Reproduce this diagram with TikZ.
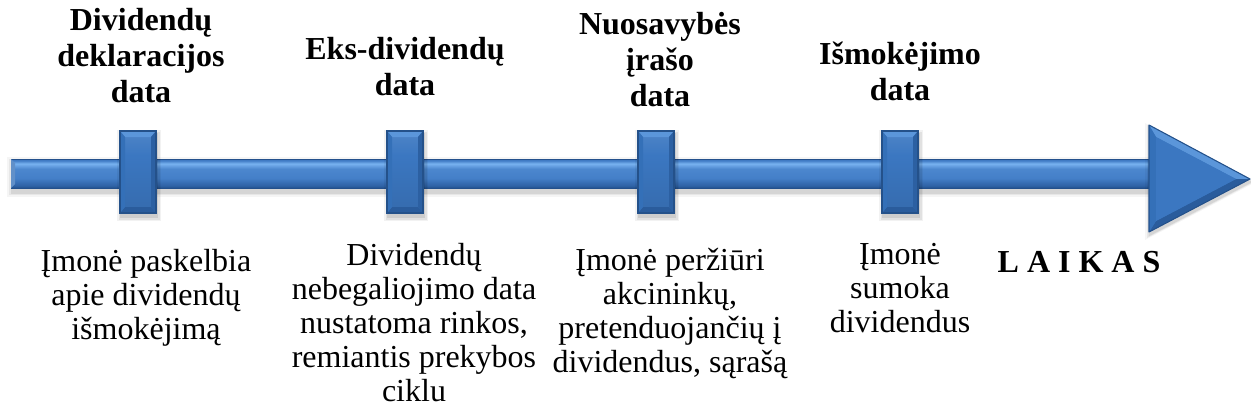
\documentclass[tikz,border=0pt]{standalone}
\usepackage{fontspec}
\setmainfont{Liberation Serif}
\usetikzlibrary{calc}

% palette of the timeline bar
\definecolor{bardeep}{HTML}{23508C}
\definecolor{barlow}{HTML}{2F62A5}
\definecolor{barmid}{HTML}{447FC8}
\definecolor{barhigh}{HTML}{78B2F0}
\definecolor{bartop}{HTML}{3A74BC}
% palette of the tick blocks and the arrow head
\definecolor{blkface}{HTML}{3B77C1}
\definecolor{blklight}{HTML}{5B96DA}
\definecolor{blkside}{HTML}{3470B8}
\definecolor{blkdark}{HTML}{2A5C9C}
\definecolor{blkedge}{HTML}{24518A}

\pgfdeclareverticalshading{barshade}{100bp}{%
  color(0bp)=(bardeep); color(25bp)=(bardeep); color(29bp)=(barlow);
  color(42bp)=(barmid); color(58bp)=(barmid!85!barhigh); color(67bp)=(barhigh);
  color(72bp)=(barmid); color(75bp)=(bartop); color(100bp)=(bartop)}
\pgfdeclareverticalshading{faceshade}{100bp}{%
  color(0bp)=(blkface!85!black); color(25bp)=(blkface!90!black);
  color(60bp)=(blkface); color(75bp)=(blkface!90!white); color(100bp)=(blkface!90!white)}

% multi-line nodes are placed by the baseline of their last line
\tikzset{
  title/.style={font=\bfseries\fontsize{24}{27}\selectfont, align=center,
                anchor=base, inner sep=0pt},
  body/.style={font=\fontsize{24}{25.5}\selectfont, align=center,
               anchor=base, inner sep=0pt},
}

% a bevelled tick block centred at x = #1
\newcommand\tickblock[1]{%
  \foreach \w/\o in {4/0.05,2.5/0.07,1/0.09}{
    \fill[black, opacity=\o] (#1-18-\w+1,134-\w) rectangle (#1+18+\w+1,217+\w);
  }
  \fill[shading=faceshade] (#1-18,131) rectangle (#1+18,213);
  \fill[blklight] (#1-18,131) -- (#1+18,131) -- (#1+13,137) -- (#1-13,137) -- cycle;
  \fill[blkdark] (#1-18,213) -- (#1+18,213) -- (#1+13,207) -- (#1-13,207) -- cycle;
  \fill[blkside] (#1-18,131) -- (#1-13,137) -- (#1-13,207) -- (#1-18,213) -- cycle;
  \fill[blkdark!80!blkside] (#1+18,131) -- (#1+13,137) -- (#1+13,207) -- (#1+18,213) -- cycle;
  \draw[blkedge, line width=0.8pt] (#1-18,131) rectangle (#1+18,213);
}

\begin{document}
\begin{tikzpicture}[x=0.75pt, y=-0.75pt]
\useasboundingbox (0,0) rectangle (1251,418);

% shadow and body of the time line
\foreach \w/\o in {5/0.04,3/0.06,1.5/0.08}{
  \fill[black, opacity=\o] (12-\w,162-\w) rectangle (1152+\w,192+\w);
}
\fill[shading=barshade] (11,159) rectangle (1152,188);
\draw[bardeep, line width=0.6pt] (11,159) rectangle (1152,188);
\fill[bartop!80!white] (11,159) -- (15,163) -- (15,184) -- (11,188) -- cycle;

% tick blocks
\tickblock{138}
\tickblock{405}
\tickblock{656}
\tickblock{900}

% arrow head
\foreach \w/\o in {5/0.04,3/0.06,1.5/0.08}{
  \fill[black, opacity=\o] (1150-\w,128-\w) -- (1251+\w,182) -- (1150-\w,235+\w) -- cycle;
}
\fill[blkface] (1149,125) -- (1250,179) -- (1149,232) -- cycle;
\fill[blklight] (1149,125) -- (1250,179) -- (1236,179) -- (1156,137) -- cycle;
\fill[blkdark] (1149,232) -- (1250,179) -- (1236,179) -- (1156,221) -- cycle;
\fill[blkside] (1149,125) -- (1156,137) -- (1156,221) -- (1149,232) -- cycle;
\fill[blkface] (1156,137) -- (1236,179) -- (1156,221) -- cycle;
\draw[blkedge, line width=0.8pt, line join=round] (1149,125) -- (1250,179) -- (1149,232) -- cycle;

% date captions above the line
\node[title] (t1) at (141,102) {Dividendų\\deklaracijos\\data};
\node[title] (t2) at (405,95) {Eks-dividendų\\data};
\node[title] (t3) at (660,106) {Nuosavybės\\įrašo\\data};
\node[title] (t4) at (900,100) {Išmokėjimo\\data};

% descriptions below the line
\node[body] (d1) at (146,339) {Įmonė paskelbia\\apie dividendų\\išmokėjimą};
\node[body] (d2) at (414,401) {Dividendų\\nebegaliojimo data\\nustatoma rinkos,\\remiantis prekybos\\ciklu};
\node[body] (d3) at (670,372) {Įmonė peržiūri\\akcininkų,\\pretenduojančių į\\dividendus, sąrašą};
\node[body] (d4) at (900,332) {Įmonė\\sumoka\\dividendus};

\node[title] (laikas) at (1079,272) {L A I K A S};
\end{tikzpicture}
\end{document}
